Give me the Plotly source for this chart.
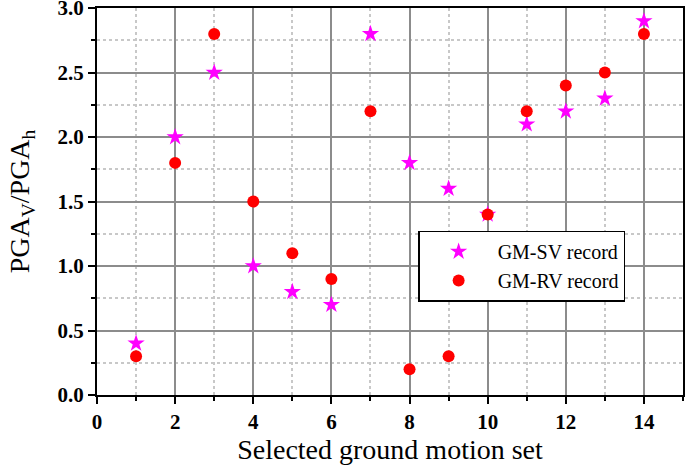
import plotly.graph_objects as go

x_sets = list(range(1, 15))
gm_sv = [0.4, 2.0, 2.5, 1.0, 0.8, 0.7, 2.8, 1.8, 1.6, 1.4, 2.1, 2.2, 2.3, 2.9]
gm_rv = [0.3, 1.8, 2.8, 1.5, 1.1, 0.9, 2.2, 0.2, 0.3, 1.4, 2.2, 2.4, 2.5, 2.8]
x_ticks = [0, 2, 4, 6, 8, 10, 12, 14]
y_ticks = [0.0, 0.5, 1.0, 1.5, 2.0, 2.5, 3.0]
y_tick_labels = ["0.0", "0.5", "1.0", "1.5", "2.0", "2.5", "3.0"]

fig = go.Figure()
fig.add_trace(go.Scatter(x=x_sets, y=gm_sv, mode="markers", name="GM-SV record",
                         marker=dict(symbol="star", size=13, color="#ff00ff")))
fig.add_trace(go.Scatter(x=x_sets, y=gm_rv, mode="markers", name="GM-RV record",
                         marker=dict(symbol="circle", size=12, color="#ff0000")))

font_serif = "Liberation Serif, Times New Roman, serif"
fig.update_layout(
    width=685, height=469,
    margin=dict(l=97, r=2, t=8, b=74),
    paper_bgcolor="white", plot_bgcolor="white",
    font=dict(family=font_serif, color="black"),
    showlegend=True,
    legend=dict(x=0.548, y=0.425, xanchor="left", yanchor="top",
                bgcolor="white", bordercolor="black", borderwidth=1.5,
                font=dict(family=font_serif, size=20, color="black"),
                itemwidth=68, tracegroupgap=0),
    xaxis=dict(range=[0, 15], tickvals=x_ticks, ticktext=["<b>%d</b>" % v for v in x_ticks],
               automargin=False, ticklabeloverflow="allow",
               showgrid=True, gridcolor="#8c8c8c", gridwidth=2,
               minor=dict(dtick=1, showgrid=True, gridcolor="#c8c8c8", griddash="dot",
                          gridwidth=1.5, ticks="outside", ticklen=4, tickcolor="black"),
               showline=True, linecolor="black", linewidth=2, mirror=True,
               ticks="outside", ticklen=7, tickwidth=2, tickcolor="black",
               tickfont=dict(family=font_serif, size=21, color="black"),
               title=dict(text="Selected ground motion set", standoff=6,
                          font=dict(family=font_serif, size=28, color="black")),
               zeroline=False),
    yaxis=dict(range=[0, 3.001], tickvals=y_ticks, ticktext=["<b>%s</b>" % t for t in y_tick_labels],
               automargin=False, ticklabeloverflow="allow",
               showgrid=True, gridcolor="#8c8c8c", gridwidth=2,
               minor=dict(dtick=0.25, showgrid=True, gridcolor="#c8c8c8", griddash="dot",
                          gridwidth=1.5, ticks="outside", ticklen=4, tickcolor="black"),
               showline=True, linecolor="black", linewidth=2, mirror=True,
               ticks="outside", ticklen=7, tickwidth=2, tickcolor="black",
               tickfont=dict(family=font_serif, size=21, color="black"),
               title=dict(text="PGA<sub>V</sub>/PGA<sub>h</sub>", standoff=20,
                          font=dict(family=font_serif, size=28, color="black")),
               zeroline=False),
)

fig.write_html("out.html", config={"displayModeBar": False},
               post_script="document.body.style.margin='0';")
